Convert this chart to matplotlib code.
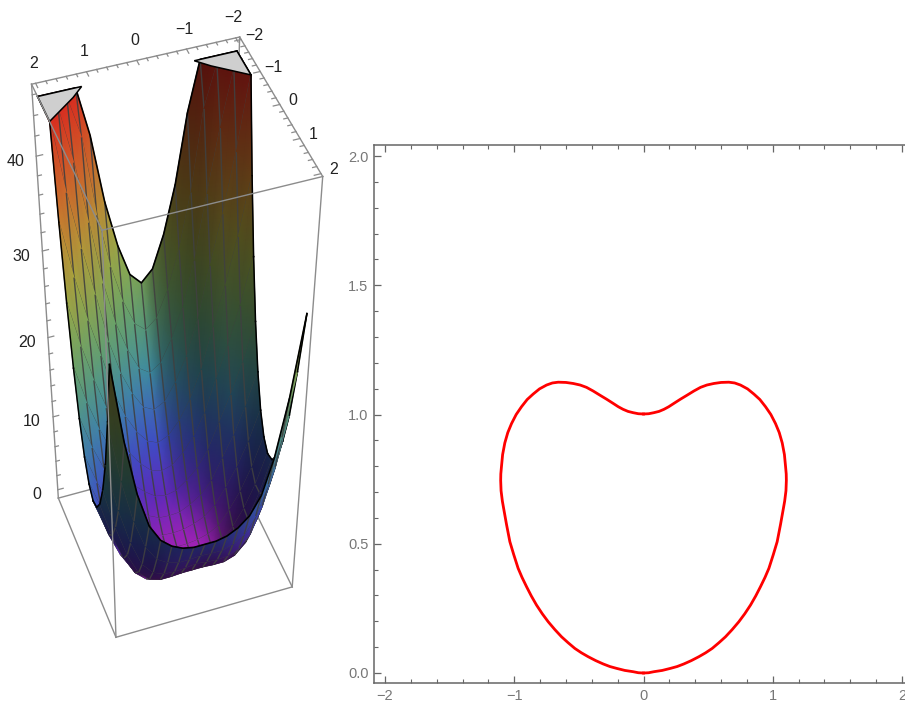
import numpy as np
import matplotlib
matplotlib.use('Agg')
import matplotlib.pyplot as plt
from matplotlib.collections import LineCollection
from matplotlib.colors import LinearSegmentedColormap

plt.rcParams['font.family'] = ['Liberation Sans', 'DejaVu Sans']

#---------------- surface heights ----------------
grid_x = [0, 0.25, 0.5, 0.75, 1, 1.25, 1.5, 1.75, 2]  # mirrored for x<0
grid_y = [-2, -1.75, -1.5, -1.25, -1, -0.75, -0.5, -0.25, 0, 0.25, 0.5, 0.75, 1, 1.25, 1.5, 1.75, 2]
# one row per grid_y, one column per grid_x
z_half = [
    [24.0, 25.3, 28.9, 34.0, 41.1, 50.6, 59.7, 69.8, 81.6],
    [19.3, 20.4, 23.4, 27.7, 33.7, 42.0, 49.7, 58.3, 68.4],
    [15.0, 15.9, 18.5, 22.0, 27.1, 34.1, 40.6, 47.9, 56.5],
    [11.3, 12.0, 14.1, 17.0, 21.2, 27.1, 32.5, 38.7, 46.0],
    [8.0, 8.6, 10.2, 12.6, 16.0, 20.9, 25.4, 30.6, 36.8],
    [5.3, 5.7, 7.0, 8.8, 11.5, 15.5, 19.3, 23.7, 29.0],
    [3.0, 3.3, 4.3, 5.6, 7.7, 11.0, 14.2, 17.9, 22.5],
    [1.3, 1.4, 2.1, 3.0, 4.6, 7.3, 10.0, 13.3, 17.4],
    [0.0, 0.1, 0.5, 1.1, 2.3, 4.4, 6.8, 9.8, 13.6],
    [-0.8, -0.8, -0.6, -0.2, 0.6, 2.4, 4.6, 7.5, 11.2],
    [-1.0, -1.1, -1.1, -0.9, -0.3, 1.2, 3.4, 6.3, 10.1],
    [-0.8, -0.9, -1.1, -1.0, -0.5, 0.8, 3.1, 6.3, 10.4],
    [-0.4, -0.4, -0.5, -0.5, 0.0, 1.3, 3.8, 7.4, 12.0],
    [0.8, 0.8, 0.7, 0.7, 1.2, 2.6, 5.5, 9.7, 15.0],
    [3.0, 2.8, 2.7, 2.8, 3.4, 5.0, 8.4, 13.1, 19.3],
    [5.3, 5.2, 5.2, 5.6, 6.5, 8.6, 12.4, 18.0, 25.5],
    [8.0, 8.0, 8.3, 9.0, 10.2, 12.5, 17.0, 23.8, 33.0],
]
z_cap = 46.0
# where the surface meets the z_cap plane near y=-2
cap_x = [2, 1.13, 1.38, 1.69, 2]
cap_y = [-2, -2, -1.75, -1.5, -1.25]

#---------------- level curve, right half ----------------
heart_x = [0, 0.04, 0.08, 0.12, 0.158, 0.195, 0.235, 0.285, 0.338, 0.39, 0.441, 0.49, 0.544, 0.6, 0.66, 0.705,
           0.75, 0.805, 0.854, 0.9, 0.944, 0.985, 1.021, 1.05, 1.073, 1.09, 1.099, 1.104, 1.105, 1.102, 1.092,
           1.08, 1.06, 1.034, 1.004, 0.97, 0.94, 0.905, 0.868, 0.828, 0.783, 0.737, 0.686, 0.634, 0.583, 0.531,
           0.48, 0.428, 0.37, 0.312, 0.26, 0.209, 0.145, 0.08, 0.04, 0]
heart_y = [1.002, 1.003, 1.007, 1.012, 1.02, 1.03, 1.043, 1.059, 1.075, 1.091, 1.105, 1.114, 1.12, 1.124, 1.125, 1.122,
           1.114, 1.099, 1.079, 1.058, 1.03, 1.0, 0.965, 0.93, 0.89, 0.845, 0.798, 0.77, 0.745, 0.705, 0.665,
           0.631, 0.575, 0.508, 0.458, 0.405, 0.37, 0.334, 0.298, 0.263, 0.229, 0.198, 0.168, 0.14, 0.117, 0.095,
           0.078, 0.063, 0.048, 0.035, 0.025, 0.018, 0.01, 0.005, 0.001, 0.0]

tick_xy = [-2, -1, 0, 1, 2]
tick_z = [0, 10, 20, 30, 40]
tick_h = ['0.0', '0.5', '1.0', '1.5', '2.0']
tick_h_val = [0, 0.5, 1, 1.5, 2]

# box corners and where they land on the canvas, used to calibrate the camera
box_lim = 2.08
z_lo, z_hi = -1.2, 47.0
corner_3d = [(2.08, -2.08, -1.2), (2.08, 2.08, -1.2), (-2.08, 2.08, -1.2), (-2.08, -2.08, -1.2),
             (2.08, -2.08, 47.0), (2.08, 2.08, 47.0), (-2.08, 2.08, 47.0), (-2.08, -2.08, 47.0)]
corner_px = [(58, 497), (116, 638), (292, 586), (227, 454),
             (32, 84), (102, 231), (323, 176), (239, 37)]


def fit_camera(pts, px):
    rows = []
    for (X, Y, Z), (u, v) in zip(pts, px):
        rows.append([X, Y, Z, 1, 0, 0, 0, 0, -u * X, -u * Y, -u * Z, -u])
        rows.append([0, 0, 0, 0, X, Y, Z, 1, -v * X, -v * Y, -v * Z, -v])
    return np.linalg.svd(np.array(rows, dtype=float))[2][-1].reshape(3, 4)


P = fit_camera(corner_3d, corner_px)
if (P[2] @ np.array([0, 0, 20, 1.0])) < 0:
    P = -P
cam = np.linalg.svd(P)[2][-1]
cam = cam[:3] / cam[3]


def proj(x, y, z):
    x, y, z = np.asarray(x, float), np.asarray(y, float), np.asarray(z, float)
    w = P[2, 0] * x + P[2, 1] * y + P[2, 2] * z + P[2, 3]
    return ((P[0, 0] * x + P[0, 1] * y + P[0, 2] * z + P[0, 3]) / w,
            (P[1, 0] * x + P[1, 1] * y + P[1, 2] * z + P[1, 3]) / w)


fig = plt.figure(figsize=(9.05, 7.07), dpi=100)

#======================== left panel ========================
ax = fig.add_axes([0, 0, 345 / 905, 1])
ax.set_xlim(0, 345)
ax.set_ylim(707, 0)
ax.axis('off')

half = np.array(z_half)
Z_raw = np.hstack([half[:, :0:-1], half])
gx = np.array(grid_x)
xs = np.concatenate([-gx[:0:-1], gx])
ys = np.array(grid_y)
X, Y = np.meshgrid(xs, ys)
Z = np.minimum(Z_raw, z_cap)
U, V = proj(X, Y, Z)

# colours: height colour times a simple two sided light
cmap = LinearSegmentedColormap.from_list('h', [
    (0.0, '#a322b8'), (0.09, '#5f2bbd'), (0.2, '#3f4fc8'), (0.34, '#3f8fa8'), (0.49, '#6aa66a'),
    (0.66, '#a8ad3f'), (0.81, '#d07f2f'), (1.0, '#dc2a20')])
zs = 0.217
dzdy, dzdx = np.gradient(Z_raw, ys, xs)
n = np.dstack([-zs * dzdx, -zs * dzdy, np.ones_like(Z_raw)])
n /= np.linalg.norm(n, axis=2, keepdims=True)
view = np.dstack([cam[0] - X, cam[1] - Y, (cam[2] - Z) * zs])
under = np.sum(n * view, axis=2) < 0
n[under] *= -1
light = np.array([-0.55, 0.5, 0.67])
light = light / np.linalg.norm(light)
shade = 0.38 + 0.95 * np.clip(n @ light, 0, 1) ** 1.25
rgb = cmap((Z + 1) / (z_cap + 1))[:, :, :3] * np.clip(shade, 0, 0.98)[:, :, None]
rgb = np.clip(rgb, 0, 1)

box_col = '#8c8c8c'
edges_back = [(0, 3), (3, 7), (7, 4), (4, 0), (0, 1), (3, 2)]
edges_front = [(1, 2), (1, 5), (2, 6), (4, 5), (5, 6), (6, 7)]
c_arr = np.array(corner_3d)
for a, b in edges_back:
    u, v = proj(c_arr[[a, b], 0], c_arr[[a, b], 1], c_arr[[a, b], 2])
    ax.plot(u, v, color=box_col, lw=1, zorder=1)

mesh_col = (0.25, 0.25, 0.25, 0.9)
zo = 2
for i in range(len(ys) - 1):
    ax.pcolormesh(U[i:i + 2], V[i:i + 2], rgb[i:i + 2], shading='gouraud', zorder=zo)
    zo += 1
    segs = [np.column_stack([U[i:i + 2, j], V[i:i + 2, j]]) for j in range(1, len(xs) - 1)]
    ax.add_collection(LineCollection(segs, colors=[mesh_col], linewidths=1.0, zorder=zo))
    zo += 1
    if i + 1 < len(ys) - 1:
        ax.plot(U[i + 1], V[i + 1], color=mesh_col, lw=1.0, zorder=zo)
    zo += 1
    for j in (0, len(xs) - 1):
        ax.plot(U[i:i + 2, j], V[i:i + 2, j], color='black', lw=1.1, zorder=zo)
    zo += 1
    if i == 0 or i == len(ys) - 2:
        edge = i if i == 0 else i + 1
        ax.plot(U[edge], V[edge], color='black', lw=1.2, zorder=zo)
        zo += 1

# grey caps where the surface is cut off
for sign in (1, -1):
    cu, cv = proj(sign * np.array(cap_x), np.array(cap_y), np.full(len(cap_x), z_cap))
    ax.fill(cu, cv, facecolor='#cfcfcf', edgecolor='black', lw=1.1, zorder=zo)
zo += 1

for a, b in edges_front:
    u, v = proj(c_arr[[a, b], 0], c_arr[[a, b], 1], c_arr[[a, b], 2])
    ax.plot(u, v, color=box_col, lw=1, zorder=zo)
zo += 1


def label(v):
    return str(v).replace('-', '\u2212')


# x ticks on back top edge, y ticks on right top edge, z ticks on the left
for t in np.arange(-2, 2.01, 0.2):
    major = abs(t - round(t)) < 1e-6
    d = 0.13 if major else 0.08
    u, v = proj([t, t], [-box_lim, -box_lim + d], [z_hi, z_hi])
    ax.plot(u, v, color=box_col, lw=0.9, zorder=zo)
    u, v = proj([-box_lim, -box_lim + d], [t, t], [z_hi, z_hi])
    ax.plot(u, v, color=box_col, lw=0.9, zorder=zo)
for t in np.arange(0, 46.01, 2):
    d = 0.13 if t % 10 == 0 else 0.08
    u, v = proj([box_lim, box_lim - d], [-box_lim, -box_lim], [t, t])
    ax.plot(u, v, color=box_col, lw=0.9, zorder=zo)
for t in tick_xy:
    u, v = proj(t, -box_lim, z_hi)
    ax.text(u - 2, v - 20, label(t), ha='center', va='center', fontsize=11.5, color='#222222', zorder=zo)
    u, v = proj(-box_lim, t, z_hi)
    ax.text(u + 13, v - 4, label(t), ha='center', va='center', fontsize=11.5, color='#222222', zorder=zo)
for t in tick_z:
    u, v = proj(box_lim, -box_lim, t)
    ax.text(u - 21, v + 5, label(t), ha='center', va='center', fontsize=11.5, color='#222222', zorder=zo)

#======================== right panel ========================
# the frame runs past the right edge of the picture, as in the reference
ax2 = fig.add_axes([374 / 905, 1 - 683 / 707, (912 - 374) / 905, (683 - 145) / 707])
ax2.plot(heart_x, heart_y, color='#ff0000', lw=2.0, solid_joinstyle='round')
ax2.plot([-v for v in heart_x], heart_y, color='#ff0000', lw=2.0, solid_joinstyle='round')
ax2.set_xlim(-2.085, 2.077)
ax2.set_ylim(-10 / 258.5, 2 + 11 / 258.5)
ax2.set_xticks(tick_xy)
ax2.set_xticklabels([label(t) for t in tick_xy])
ax2.set_xticks(np.arange(-2, 2.01, 0.2), minor=True)
ax2.set_yticks(tick_h_val)
ax2.set_yticklabels(tick_h)
ax2.set_yticks(np.arange(0, 2.01, 0.1), minor=True)
ax2.tick_params(which='both', direction='in', top=True, right=True, color='#666666', labelcolor='#777777',
                labelsize=10.5, pad=4)
ax2.tick_params(which='major', length=5, width=0.9)
ax2.tick_params(which='minor', length=3, width=0.8)
for s in ax2.spines.values():
    s.set_color('#666666')
    s.set_linewidth(1.1)

fig.savefig('out.png', dpi=100)
